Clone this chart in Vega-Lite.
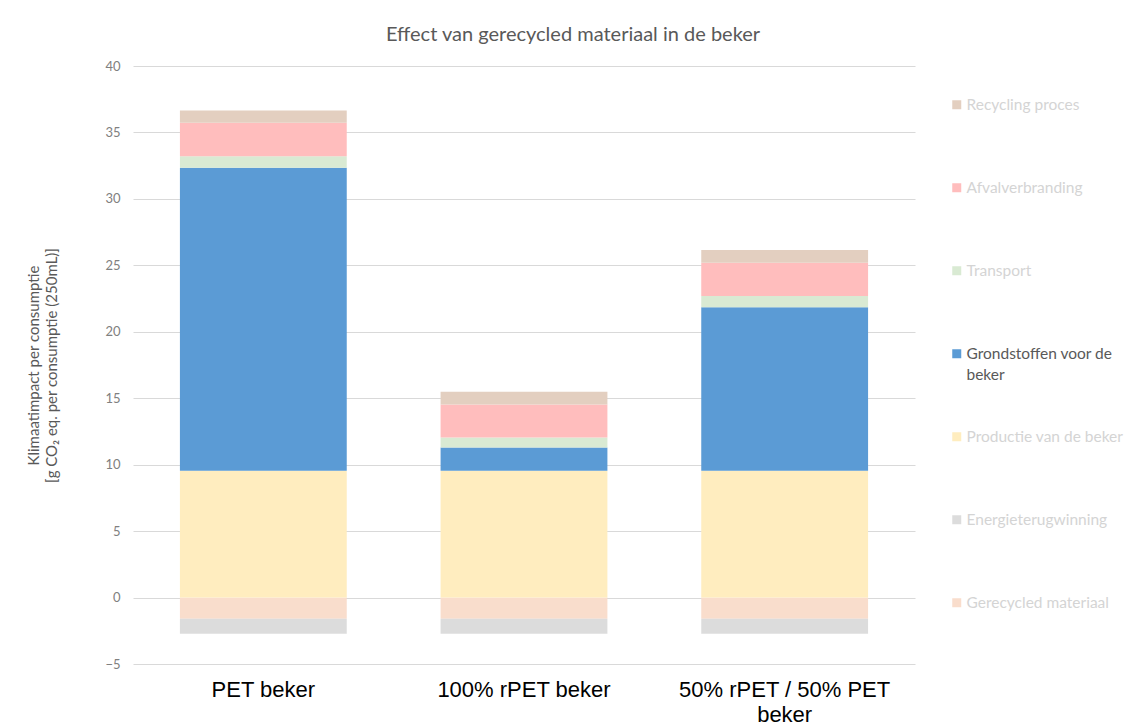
{
  "$schema": "https://vega.github.io/schema/vega-lite/v6.json",
  "autosize": "none",
  "width": 782,
  "height": 598,
  "padding": {"left": 133, "top": 66, "right": 223, "bottom": 58},
  "background": "white",
  "title": {
    "text": "Effect van gerecycled materiaal in de beker",
    "font": "Lato",
    "fontSize": 20,
    "fontWeight": "normal",
    "color": "#595959",
    "anchor": "middle",
    "frame": "group",
    "dx": 49,
    "baseline": "alphabetic",
    "offset": -1
  },
  "data": {
    "values": [
      {"beker": "PET beker", "component": "Gerecycled materiaal", "value": -1.6, "stack": 1},
      {"beker": "PET beker", "component": "Energieterugwinning", "value": -1.12, "stack": 2},
      {"beker": "PET beker", "component": "Productie van de beker", "value": 9.55, "stack": 3},
      {"beker": "PET beker", "component": "Grondstoffen voor de beker", "value": 22.8, "stack": 4},
      {"beker": "PET beker", "component": "Transport", "value": 0.85, "stack": 5},
      {"beker": "PET beker", "component": "Afvalverbranding", "value": 2.53, "stack": 6},
      {"beker": "PET beker", "component": "Recycling proces", "value": 0.93, "stack": 7},
      {"beker": "100% rPET beker", "component": "Gerecycled materiaal", "value": -1.6, "stack": 1},
      {"beker": "100% rPET beker", "component": "Energieterugwinning", "value": -1.12, "stack": 2},
      {"beker": "100% rPET beker", "component": "Productie van de beker", "value": 9.55, "stack": 3},
      {"beker": "100% rPET beker", "component": "Grondstoffen voor de beker", "value": 1.75, "stack": 4},
      {"beker": "100% rPET beker", "component": "Transport", "value": 0.75, "stack": 5},
      {"beker": "100% rPET beker", "component": "Afvalverbranding", "value": 2.48, "stack": 6},
      {"beker": "100% rPET beker", "component": "Recycling proces", "value": 0.95, "stack": 7},
      {"beker": "50% rPET / 50% PET beker", "component": "Gerecycled materiaal", "value": -1.6, "stack": 1},
      {"beker": "50% rPET / 50% PET beker", "component": "Energieterugwinning", "value": -1.12, "stack": 2},
      {"beker": "50% rPET / 50% PET beker", "component": "Productie van de beker", "value": 9.55, "stack": 3},
      {"beker": "50% rPET / 50% PET beker", "component": "Grondstoffen voor de beker", "value": 12.3, "stack": 4},
      {"beker": "50% rPET / 50% PET beker", "component": "Transport", "value": 0.85, "stack": 5},
      {"beker": "50% rPET / 50% PET beker", "component": "Afvalverbranding", "value": 2.5, "stack": 6},
      {"beker": "50% rPET / 50% PET beker", "component": "Recycling proces", "value": 0.95, "stack": 7}
    ]
  },
  "mark": {"type": "bar"},
  "encoding": {
    "x": {
      "field": "beker",
      "type": "nominal",
      "sort": null,
      "scale": {"paddingInner": 0.36, "paddingOuter": 0.18},
      "axis": {
        "title": null,
        "domain": false,
        "ticks": false,
        "labelAngle": 0,
        "labelFont": "Liberation Sans",
        "labelFontSize": 22,
        "labelColor": "#000000",
        "labelPadding": 15,
        "labelLineHeight": 25,
        "labelLimit": 400,
        "labelExpr": "datum.label == '50% rPET / 50% PET beker' ? ['50% rPET / 50% PET', 'beker'] : datum.label"
      }
    },
    "y": {
      "field": "value",
      "type": "quantitative",
      "stack": "zero",
      "scale": {"domain": [-5, 40], "nice": false},
      "axis": {
        "title": ["Klimaatimpact per consumptie", "[g CO₂ eq. per consumptie (250mL)]"],
        "titleFont": "Lato",
        "titleFontSize": 15,
        "titleFontWeight": "normal",
        "titleColor": "#595959",
        "titleLineHeight": 18,
        "titlePadding": 45,
        "values": [-5, 0, 5, 10, 15, 20, 25, 30, 35, 40],
        "domain": false,
        "ticks": false,
        "labelFont": "Lato",
        "labelFontSize": 13,
        "labelColor": "#808080",
        "labelPadding": 13,
        "gridColor": "#d9d9d9",
        "gridWidth": 1
      }
    },
    "color": {
      "field": "component",
      "type": "nominal",
      "scale": {
        "domain": ["Recycling proces", "Afvalverbranding", "Transport", "Grondstoffen voor de beker", "Productie van de beker", "Energieterugwinning", "Gerecycled materiaal"],
        "range": ["#e3cfc0", "#ffbdbd", "#d9ead3", "#5b9bd5", "#ffedbf", "#dcdcdc", "#f9ddcc"]
      },
      "legend": {
        "title": null,
        "orient": "none",
        "legendX": 816,
        "legendY": 31,
        "gridAlign": "all",
        "symbolType": "square",
        "symbolSize": 81,
        "symbolStrokeWidth": 0,
        "labelFont": "Lato",
        "labelFontSize": 15.5,
        "labelOffset": 2,
        "labelLimit": 220,
        "rowPadding": 45,
        "labelExpr": "datum.label == 'Grondstoffen voor de beker' ? ['Grondstoffen voor de', 'beker'] : datum.label",
        "encode": {
          "labels": {
            "update": {
              "lineHeight": {"value": 21},
              "fill": {"signal": "datum.label == 'Grondstoffen voor de beker' ? '#595959' : '#d4d4d4'"}
            }
          }
        }
      }
    },
    "order": {"field": "stack", "type": "quantitative"}
  },
  "config": {
    "view": {"stroke": null}
  }
}
